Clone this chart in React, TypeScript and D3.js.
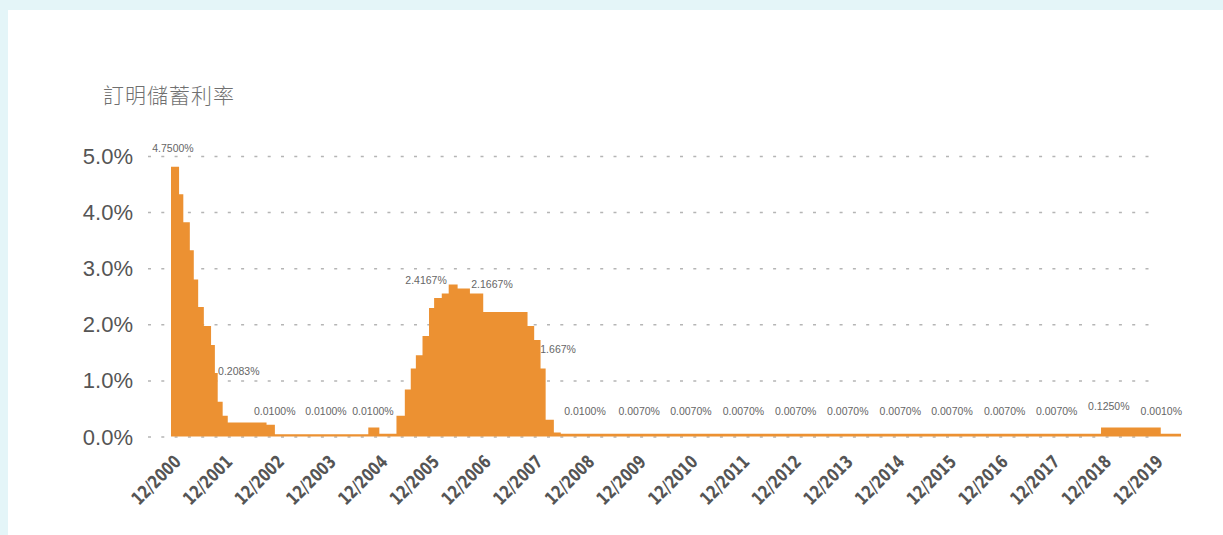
import * as d3 from "d3";

// rate change points (step after), % per annum
const changeDates = [
  "2000-12-01", "2001-01-27", "2001-02-26", "2001-04-13", "2001-05-11", "2001-06-11",
  "2001-07-21", "2001-09-10", "2001-10-07", "2001-10-27", "2001-12-01", "2002-01-06",
  "2002-10-07", "2002-12-05", "2004-09-25", "2004-12-12", "2005-04-12", "2005-06-10",
  "2005-07-22", "2005-08-27", "2005-10-13", "2005-11-28", "2006-01-03", "2006-02-26",
  "2006-04-16", "2006-06-18", "2006-09-13", "2006-12-16", "2007-10-25", "2007-12-11",
  "2008-01-25", "2008-03-01", "2008-04-28", "2008-06-16", "2018-11-28", "2020-01-24",
];
const rates = [
  4.81, 4.32, 3.82, 3.32, 2.8, 2.31,
  1.97, 1.63, 1.13, 0.62, 0.37, 0.25,
  0.21, 0.04, 0.16, 0.05, 0.37, 0.84,
  1.21, 1.45, 1.79, 2.29, 2.47, 2.55,
  2.71, 2.64, 2.55, 2.22, 1.97, 1.72,
  1.21, 0.3, 0.07, 0.05, 0.16, 0.05,
];
const endDate = "2020-06-15";

const tickLabels = [
  "12/2000", "12/2001", "12/2002", "12/2003", "12/2004", "12/2005", "12/2006",
  "12/2007", "12/2008", "12/2009", "12/2010", "12/2011", "12/2012", "12/2013",
  "12/2014", "12/2015", "12/2016", "12/2017", "12/2018", "12/2019",
];
const yTicks = [0, 1, 2, 3, 4, 5];

const noteTexts = [
  "4.7500%", "0.2083%", "0.0100%", "0.0100%", "0.0100%", "2.4167%", "2.1667%",
  "1.667%", "0.0100%", "0.0070%", "0.0070%", "0.0070%", "0.0070%", "0.0070%",
  "0.0070%", "0.0070%", "0.0070%", "0.0070%", "0.1250%", "0.0010%",
];
const noteDates = [
  "2000-12-15", "2002-03-25", "2002-12-04", "2003-12-01", "2004-10-28", "2005-11-07",
  "2007-02-16", "2008-05-28", "2008-12-04", "2009-12-22", "2010-12-22", "2011-12-28",
  "2013-01-01", "2014-01-04", "2015-01-10", "2016-01-10", "2017-01-16", "2018-01-19",
  "2019-01-22", "2020-01-28",
];
const noteLevels = [
  5.07, 1.1, 0.385, 0.385, 0.385, 2.71, 2.64, 1.49, 0.385, 0.385, 0.385, 0.385,
  0.385, 0.385, 0.385, 0.385, 0.385, 0.385, 0.48, 0.385,
];

const title = "訂明儲蓄利率";

const W = 1223;
const H = 535;
const orange = "#ec9132";
const parse = d3.timeParse("%Y-%m-%d");

export default function App() {
  const x = d3
    .scaleTime()
    .domain([parse(changeDates[0])!, parse(endDate)!])
    .range([171, 1181]);
  const y = d3.scaleLinear().domain([0, 5]).range([436.5, 156]);

  const pts: [Date, number][] = changeDates.map((d, i) => [parse(d)!, rates[i]]);
  pts.push([parse(endDate)!, rates[rates.length - 1]]);

  const area = d3
    .area<[Date, number]>()
    .curve(d3.curveStepAfter)
    .x((d) => x(d[0]))
    .y0(y(0))
    .y1((d) => y(d[1]));

  const tickDates = tickLabels.map((t) => {
    const [m, yr] = t.split("/");
    return new Date(+yr, +m - 1, 1);
  });

  return (
    <svg
      width={W}
      height={H}
      style={{ position: "absolute", left: 0, top: 0, display: "block" }}
    >
      <rect x={0} y={0} width={W} height={H} fill="#e4f5f8" />
      <rect x={8} y={10} width={W} height={H} fill="#ffffff" />

      <text
        x={103}
        y={103}
        fontFamily="'Noto Sans CJK TC', 'Noto Sans CJK SC', sans-serif"
        fontWeight={300}
        fontSize={21}
        fill="#707070"
        letterSpacing={1}
      >
        {title}
      </text>

      {yTicks.map((t) => (
        <g key={t}>
          <line
            x1={148}
            x2={1152}
            y1={y(t) + 0.5}
            y2={y(t) + 0.5}
            stroke="#b5b5b5"
            strokeWidth={1.5}
            strokeDasharray="3 10.3"
          />
          <text
            x={133}
            y={y(t) + 8}
            textAnchor="end"
            fontFamily="'Liberation Sans', Arial, sans-serif"
            fontSize={22}
            fill="#555"
          >
            {t.toFixed(1)}%
          </text>
        </g>
      ))}

      <path d={area(pts)!} fill={orange} />

      {noteTexts.map((t, i) => (
        <text
          key={i}
          x={x(parse(noteDates[i])!)}
          y={y(noteLevels[i])}
          textAnchor="middle"
          fontFamily="'Liberation Sans', Arial, sans-serif"
          fontSize={10.5}
          fill="#666"
        >
          {t}
        </text>
      ))}

      {tickLabels.map((t, i) => (
        <text
          key={t}
          transform={`translate(${x(tickDates[i]) + 11},463) rotate(-45)`}
          textAnchor="end"
          fontFamily="'Liberation Sans Narrow', 'DejaVu Sans Condensed', sans-serif"
          fontWeight="bold"
          fontSize={18}
          textLength={61}
          lengthAdjust="spacingAndGlyphs"
          fill="#555"
        >
          {t}
        </text>
      ))}
    </svg>
  );
}
